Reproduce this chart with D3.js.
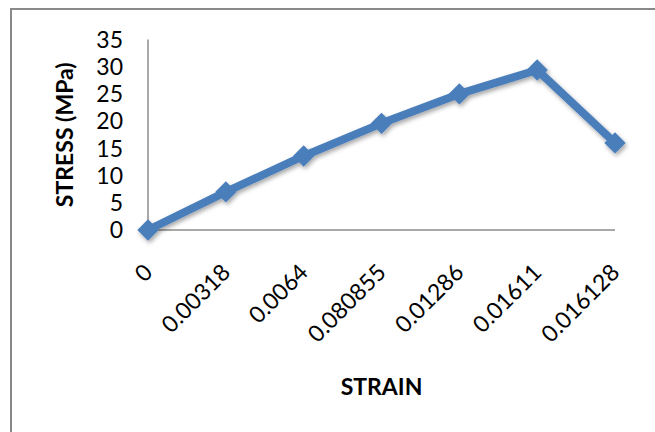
<!DOCTYPE html>
<html>
<head>
<meta charset="utf-8">
<script src="https://cdn.jsdelivr.net/npm/d3@7"></script>
<style>
  html, body { margin: 0; padding: 0; background: #fff; }
  svg { display: block; }
  text { font-family: Lato, "Open Sans", sans-serif; fill: #000; }
</style>
</head>
<body>
<script>
const categories = ["0", "0.00318", "0.0064", "0.080855", "0.01286", "0.01611", "0.016128"];
const stress = [0, 7.0, 13.6, 19.6, 25.0, 29.4, 16.0];
const yTicks = [0, 5, 10, 15, 20, 25, 30, 35];
const xTitle = "STRAIN";
const yTitle = "STRESS (MPa)";

const W = 655, H = 432;
const svg = d3.select("body").append("svg").attr("width", W).attr("height", H);

const defs = svg.append("defs");
const f = defs.append("filter").attr("id", "shadow").attr("x", "-50%").attr("y", "-50%").attr("width", "200%").attr("height", "200%");
f.append("feDropShadow").attr("dx", 1.5).attr("dy", 2.5).attr("stdDeviation", 2).attr("flood-color", "#000").attr("flood-opacity", 0.35);

// outer chart border (right/bottom edges fall outside the picture)
svg.append("rect").attr("x", 11).attr("y", 9).attr("width", 700).attr("height", 500)
  .attr("fill", "none").attr("stroke", "#898989").attr("stroke-width", 2);

const x = d3.scalePoint().domain(categories).range([148, 615]);
const y = d3.scaleLinear().domain([0, 35]).range([230, 39.5]);

// axes lines
svg.append("line").attr("x1", 148).attr("x2", 148).attr("y1", y(35)).attr("y2", y(0))
  .attr("stroke", "#8c8c8c").attr("stroke-width", 1.5);
svg.append("line").attr("x1", 148).attr("x2", 615).attr("y1", y(0)).attr("y2", y(0))
  .attr("stroke", "#8c8c8c").attr("stroke-width", 1.5);

// y tick labels
svg.append("g").selectAll("text").data(yTicks).join("text")
  .attr("x", 123).attr("y", d => y(d)).attr("dy", "0.36em")
  .attr("text-anchor", "end").style("font-size", "23px").text(d => d);

// x tick labels
svg.append("g").selectAll("text").data(categories).join("text")
  .attr("transform", d => `translate(${x(d)},268) rotate(-45)`)
  .attr("dy", "0.36em").attr("text-anchor", "end").style("font-size", "23px").text(d => d);

// titles
svg.append("text").attr("x", (148 + 615) / 2).attr("y", 395).attr("text-anchor", "middle")
  .style("font-size", "23px").style("font-weight", "bold").text(xTitle);
svg.append("text").attr("transform", `translate(73,${(y(0) + y(35)) / 2}) rotate(-90)`)
  .attr("text-anchor", "middle").style("font-size", "23px").style("font-weight", "bold").text(yTitle);

// series
const color = "#4a7ebb";
const g = svg.append("g").attr("filter", "url(#shadow)");
g.append("path").datum(stress)
  .attr("d", d3.line().x((d, i) => x(categories[i])).y(d => y(d)))
  .attr("fill", "none").attr("stroke", color).attr("stroke-width", 8).attr("stroke-linejoin", "round");
g.selectAll("path.m").data(stress).join("path").attr("class", "m")
  .attr("transform", (d, i) => `translate(${x(categories[i])},${y(d)})`)
  .attr("d", d3.symbol().type(d3.symbolDiamond2).size(290))
  .attr("fill", color);
</script>
</body>
</html>
